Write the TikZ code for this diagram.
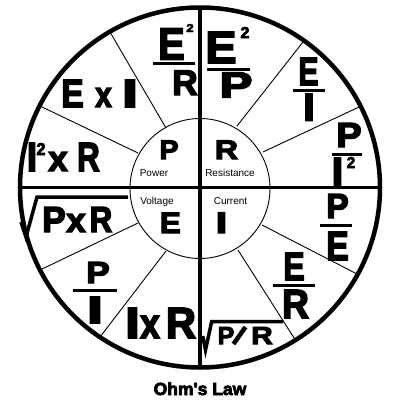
\documentclass[tikz,border=0pt]{standalone}
\usepackage{fontspec}
\setmainfont{Liberation Sans}
\newfontfamily\heavy[FakeBold=4]{Liberation Sans Bold}
\newcommand\G[3]{\resizebox{#1pt}{#2pt}{\heavy #3}}
\begin{document}
\begin{tikzpicture}[x=1pt,y=-1pt,
  gl/.style={inner sep=0pt,outer sep=0pt,anchor=south},
  lab/.style={inner sep=0pt,outer sep=0pt,anchor=base,font=\fontsize{10}{12}\selectfont},
  spoke/.style={line width=0.9pt},
  bar/.style={line width=3pt},
  rad/.style={line width=3.5pt,line join=miter},
  cross/.style={line width=3.5pt},
  rim/.style={line width=4.5pt}]
\useasboundingbox (0,0) rectangle (400,400);
% circles and cross
\coordinate (c) at (200,187.5);
\draw[rim] (c) circle[radius=180];
\draw[spoke] (200,188.5) circle[radius=70];
\draw[cross] (200,7.5) -- (200,367.5);
\draw[cross] (20,187.5) -- (380,187.5);
% spokes
\draw[spoke] (166,128) -- (110,32);
\draw[spoke] (138,153) -- (40,106);
\draw[spoke] (237,126) -- (303,42);
\draw[spoke] (263,152) -- (359,107);
\draw[spoke] (138,223) -- (40,270);
\draw[spoke] (166,251) -- (100,337);
\draw[spoke] (262,225) -- (357,274);
\draw[spoke] (238,250) -- (296,341);
% inner labels
\node[gl] (pin) at (169,159) {\G{19}{18.5}{P}};
\node[gl] (rin) at (226.5,159) {\G{23}{18.5}{R}};
\node[gl] (ein) at (170.3,233) {\G{21}{20.3}{E}};
\node[gl] (iin) at (221.5,233) {\G{11.5}{20.5}{I}};
\node[lab] (power) at (154,176.7) {Power};
\node[lab] (resist) at (230,176.7) {Resistance};
\node[lab] (volt) at (157,204) {Voltage};
\node[lab] (curr) at (230.5,204) {Current};
% E x I
\node[gl] (exi1) at (72.5,107) {\G{22.5}{27}{E}};
\node[gl] (exi2) at (103.5,107) {\G{16.5}{19}{x}};
\node[gl] (exi3) at (130,107) {\G{16.5}{27}{I}};
% I^2 x R
\node[gl] (ixr1) at (32,171) {\G{10}{28}{I}};
\node[gl] (ixr2) at (41,155) {\G{9}{12}{2}};
\node[gl] (ixr3) at (58,171) {\G{19.5}{19}{x}};
\node[gl] (ixr4) at (88.5,171) {\G{22.5}{28}{R}};
% E^2 / R
\node[gl] (er1) at (171.5,59.5) {\G{26.5}{31}{E}};
\node[gl] (er2) at (190,32) {\G{7.5}{8}{2}};
\draw[bar] (153,63.5) -- (195,63.5);
\node[gl] (er3) at (185,95) {\G{25.5}{24.5}{R}};
% E^2 / P
\node[gl] (ep1) at (221,63) {\G{31}{31}{E}};
\node[gl] (ep2) at (245,38) {\G{9}{11}{2}};
\draw[bar] (207,69.5) -- (250,69.5);
\node[gl] (ep3) at (236,97.5) {\G{33}{25}{P}};
% E / I
\node[gl] (ei1) at (308.5,85) {\G{20}{27}{E}};
\draw[bar] (293,90) -- (325,90);
\node[gl] (ei2) at (309,120.5) {\G{11.5}{26.5}{I}};
% P / I^2
\node[gl] (pi1) at (349,147) {\G{25.5}{24}{P}};
\draw[bar] (332,154.5) -- (362,154.5);
\node[gl] (pi2) at (337.5,185.5) {\G{11.5}{27.5}{I}};
\node[gl] (pi3) at (351,168) {\G{8.5}{11}{2}};
% P / E
\node[gl] (pe1) at (337.5,218) {\G{22.5}{24}{P}};
\draw[bar] (320,225) -- (352,225);
\node[gl] (pe2) at (337.5,260) {\G{22.5}{28}{E}};
% E / R
\node[gl] (erb1) at (294,280) {\G{21.5}{27}{E}};
\draw[bar] (273,285) -- (315,285);
\node[gl] (erb2) at (295.5,318) {\G{27}{28}{R}};
% sqrt(P/R)
\draw[rad] (202.7,336) -- (205.5,350) -- (211.7,321.5) -- (283,321.5);
\node[gl] (spr1) at (226,344) {\G{16.5}{17}{P}};
\draw[line width=4.5pt] (233.5,344) -- (245.5,327);
\node[gl] (spr2) at (262,344) {\G{21.5}{17}{R}};
% sqrt(PxR)
\draw[rad] (21,222) -- (26,237) -- (37,197) -- (128,197);
\node[gl] (spx1) at (54,232) {\G{23.5}{25}{P}};
\node[gl] (spx2) at (76,232) {\G{19.5}{18}{x}};
\node[gl] (spx3) at (101,232) {\G{22.5}{25}{R}};
% P / I
\node[gl] (pil1) at (98,283) {\G{23.5}{21}{P}};
\draw[bar] (73,290) -- (117,290);
\node[gl] (pil2) at (95,323) {\G{16.5}{26}{I}};
% I x R
\node[gl] (ir1) at (132.5,338) {\G{15}{30}{I}};
\node[gl] (ir2) at (150,338) {\G{19.5}{22}{x}};
\node[gl] (ir3) at (181,338) {\G{30}{30}{R}};
% title
\node[inner sep=0pt,anchor=base,font=\fontsize{17.5}{20}\selectfont\heavy] (title) at (200,395) {Ohm's Law};
\end{tikzpicture}
\end{document}
